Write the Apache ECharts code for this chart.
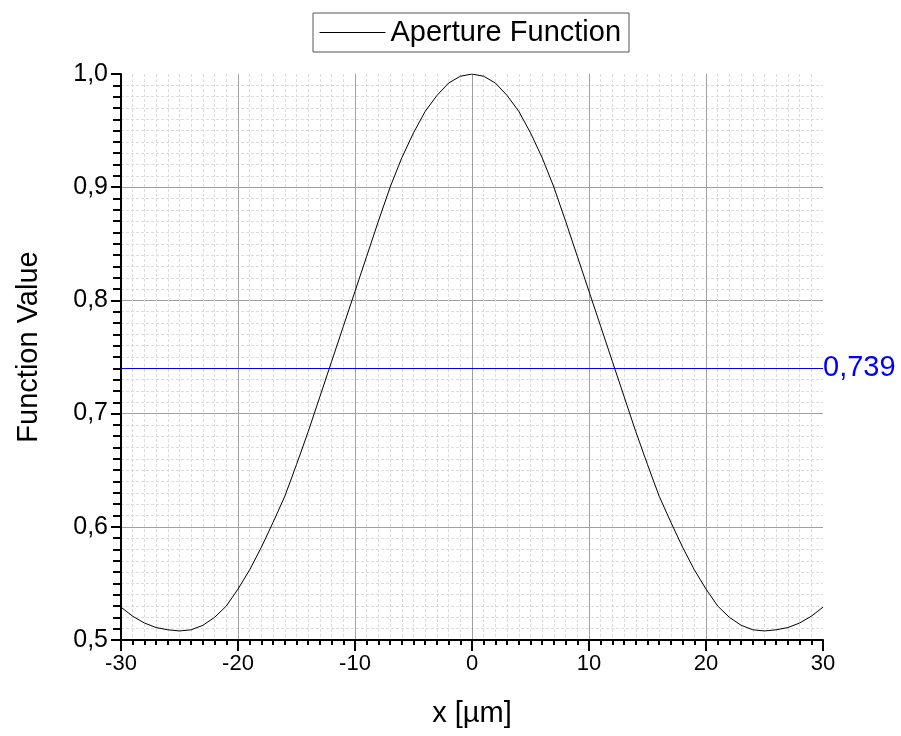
<!DOCTYPE html>
<html>
<head>
<meta charset="utf-8">
<script src="https://cdn.jsdelivr.net/npm/echarts@6/dist/echarts.min.js"></script>
<style>html,body{margin:0;padding:0;background:#fff}#c{width:901px;height:736px}</style>
</head>
<body>
<div id="c"></div>
<script>
// x positions in µm
const xValues = [-30,-29,-28,-27,-26,-25,-24,-23,-22,-21,-20,-19,-18,-17,-16,-15,-14,-13,-12,-11,-10,-9,-8,-7,-6,-5,-4,-3,-2,-1,
  0,1,2,3,4,5,6,7,8,9,10,11,12,13,14,15,16,17,18,19,20,21,22,23,24,25,26,27,28,29,30];
// aperture function values
const apertureValues = [0.529,0.521,0.515,0.511,0.509,0.508,0.509,0.513,0.520,0.530,0.545,0.562,0.582,0.604,0.627,0.655,0.684,0.715,0.746,0.777,0.808,0.839,0.870,0.900,0.926,0.948,0.967,0.981,0.992,0.998,
  1.000,0.998,0.992,0.981,0.967,0.948,0.926,0.900,0.870,0.839,0.808,0.777,0.746,0.715,0.684,0.655,0.627,0.604,0.582,0.562,0.545,0.530,0.520,0.513,0.509,0.508,0.509,0.511,0.515,0.521,0.529];
const markValue = 0.739;
const markLabel = '0,739';
const seriesName = 'Aperture Function';
const xTitle = 'x [µm]';
const yTitle = 'Function Value';

const FONT = 'Liberation Sans, Arial, sans-serif';
const data = xValues.map((x, i) => [x, apertureValues[i]]);
const chart = echarts.init(document.getElementById('c'), null, {renderer: 'canvas'});
chart.setOption({
  animation: false,
  backgroundColor: '#ffffff',
  grid: {left: 121, right: 78, top: 74, bottom: 96, containLabel: false},
  legend: {
    data: [seriesName],
    left: 313, top: 13,
    borderColor: '#555', borderWidth: 1,
    padding: [5, 8, 5, 6],
    itemWidth: 66, itemHeight: 14, itemGap: 9,
    itemStyle: {opacity: 0},
    lineStyle: {color: '#000', width: 1},
    textStyle: {fontFamily: FONT, fontSize: 29, color: '#000'}
  },
  xAxis: {
    type: 'value', min: -30, max: 30, interval: 10,
    name: xTitle, nameLocation: 'middle', nameGap: 59,
    nameTextStyle: {fontFamily: FONT, fontSize: 29, color: '#000'},
    axisLine: {show: true, onZero: false, lineStyle: {color: '#000', width: 2}},
    axisTick: {show: true, inside: false, length: 11, lineStyle: {color: '#000', width: 2}},
    minorTick: {show: true, splitNumber: 10, length: 5, lineStyle: {color: '#000', width: 2}},
    axisLabel: {fontFamily: FONT, fontSize: 22, color: '#000', margin: 13},
    splitLine: {show: true, showMaxLine: false, showMinLine: false, lineStyle: {color: '#a0a0a0', width: 1}},
    minorSplitLine: {show: true, lineStyle: {color: '#dcdcdc', width: 1, type: [3, 2]}}
  },
  yAxis: {
    type: 'value', min: 0.5, max: 1.0, interval: 0.1,
    name: yTitle, nameLocation: 'middle', nameGap: 78, nameRotate: 90,
    nameTextStyle: {fontFamily: FONT, fontSize: 29, color: '#000', padding: [0, 0, 0, 20]},
    axisLine: {show: true, onZero: false, lineStyle: {color: '#000', width: 2}},
    axisTick: {show: true, inside: false, length: 10, lineStyle: {color: '#000', width: 2}},
    minorTick: {show: true, splitNumber: 10, length: 8, lineStyle: {color: '#000', width: 2}},
    axisLabel: {fontFamily: FONT, fontSize: 25, color: '#000', margin: 13,
      formatter: v => v.toFixed(1).replace('.', ',')},
    splitLine: {show: true, showMaxLine: false, showMinLine: false, lineStyle: {color: '#a0a0a0', width: 1}},
    minorSplitLine: {show: true, lineStyle: {color: '#dcdcdc', width: 1, type: [3, 2]}}
  },
  series: [{
    name: seriesName, type: 'line', data: data,
    symbol: 'none', smooth: false,
    lineStyle: {color: '#000', width: 1},
    itemStyle: {color: '#000'},
    markLine: {
      silent: true, symbol: 'none',
      lineStyle: {color: '#0000ee', width: 1, type: 'solid'},
      label: {show: true, position: 'end', distance: 0, formatter: markLabel,
        fontFamily: FONT, fontSize: 29, color: '#0000ff'},
      data: [{yAxis: markValue}]
    }
  }]
});
</script>
</body>
</html>
